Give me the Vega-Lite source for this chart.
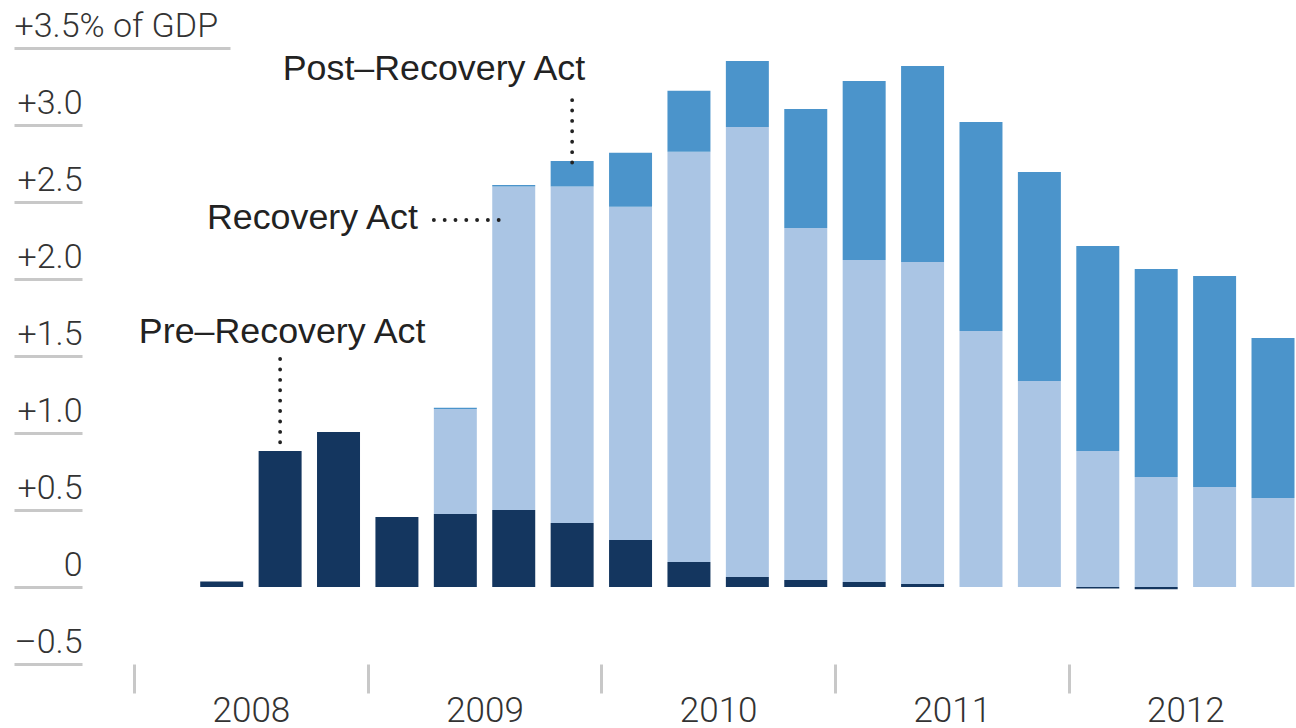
{
  "$schema": "https://vega.github.io/schema/vega-lite/v6.json",
  "width": 1269.5,
  "height": 616,
  "autosize": {"type": "none"},
  "padding": {"left": 25, "top": 48, "right": 1.5, "bottom": 64},
  "background": "#ffffff",
  "config": {"view": {"stroke": null}},
  "layer": [
    {
      "data": {"values": [
        {"q": "2008 Q2", "part": "pre", "k": 1, "v": 0.035},
        {"q": "2008 Q3", "part": "pre", "k": 1, "v": 0.883},
        {"q": "2008 Q4", "part": "pre", "k": 1, "v": 1.006},
        {"q": "2009 Q1", "part": "pre", "k": 1, "v": 0.455},
        {"q": "2009 Q2", "part": "pre", "k": 1, "v": 0.474},
        {"q": "2009 Q3", "part": "pre", "k": 1, "v": 0.5},
        {"q": "2009 Q4", "part": "pre", "k": 1, "v": 0.416},
        {"q": "2010 Q1", "part": "pre", "k": 1, "v": 0.305},
        {"q": "2010 Q2", "part": "pre", "k": 1, "v": 0.162},
        {"q": "2010 Q3", "part": "pre", "k": 1, "v": 0.065},
        {"q": "2010 Q4", "part": "pre", "k": 1, "v": 0.045},
        {"q": "2011 Q1", "part": "pre", "k": 1, "v": 0.032},
        {"q": "2011 Q2", "part": "pre", "k": 1, "v": 0.02},
        {"q": "2012 Q1", "part": "pre", "k": 1, "v": -0.01},
        {"q": "2012 Q2", "part": "pre", "k": 1, "v": -0.015},
        {"q": "2009 Q2", "part": "rec", "k": 2, "v": 0.682},
        {"q": "2009 Q3", "part": "rec", "k": 2, "v": 2.1},
        {"q": "2009 Q4", "part": "rec", "k": 2, "v": 2.184},
        {"q": "2010 Q1", "part": "rec", "k": 2, "v": 2.164},
        {"q": "2010 Q2", "part": "rec", "k": 2, "v": 2.665},
        {"q": "2010 Q3", "part": "rec", "k": 2, "v": 2.922},
        {"q": "2010 Q4", "part": "rec", "k": 2, "v": 2.286},
        {"q": "2011 Q1", "part": "rec", "k": 2, "v": 2.091},
        {"q": "2011 Q2", "part": "rec", "k": 2, "v": 2.09},
        {"q": "2011 Q3", "part": "rec", "k": 2, "v": 1.662},
        {"q": "2011 Q4", "part": "rec", "k": 2, "v": 1.338},
        {"q": "2012 Q1", "part": "rec", "k": 2, "v": 0.883},
        {"q": "2012 Q2", "part": "rec", "k": 2, "v": 0.714},
        {"q": "2012 Q3", "part": "rec", "k": 2, "v": 0.649},
        {"q": "2012 Q4", "part": "rec", "k": 2, "v": 0.578},
        {"q": "2009 Q2", "part": "post", "k": 3, "v": 0.008},
        {"q": "2009 Q3", "part": "post", "k": 3, "v": 0.01},
        {"q": "2009 Q4", "part": "post", "k": 3, "v": 0.166},
        {"q": "2010 Q1", "part": "post", "k": 3, "v": 0.351},
        {"q": "2010 Q2", "part": "post", "k": 3, "v": 0.396},
        {"q": "2010 Q3", "part": "post", "k": 3, "v": 0.429},
        {"q": "2010 Q4", "part": "post", "k": 3, "v": 0.773},
        {"q": "2011 Q1", "part": "post", "k": 3, "v": 1.163},
        {"q": "2011 Q2", "part": "post", "k": 3, "v": 1.273},
        {"q": "2011 Q3", "part": "post", "k": 3, "v": 1.357},
        {"q": "2011 Q4", "part": "post", "k": 3, "v": 1.357},
        {"q": "2012 Q1", "part": "post", "k": 3, "v": 1.331},
        {"q": "2012 Q2", "part": "post", "k": 3, "v": 1.351},
        {"q": "2012 Q3", "part": "post", "k": 3, "v": 1.37},
        {"q": "2012 Q4", "part": "post", "k": 3, "v": 1.039}
      ]},
      "mark": {"type": "bar"},
      "encoding": {
        "x": {
          "field": "q", "type": "ordinal", "sort": null,
          "scale": {
            "domain": ["2008 Q1","2008 Q2","2008 Q3","2008 Q4","2009 Q1","2009 Q2","2009 Q3","2009 Q4","2010 Q1","2010 Q2","2010 Q3","2010 Q4","2011 Q1","2011 Q2","2011 Q3","2011 Q4","2012 Q1","2012 Q2","2012 Q3","2012 Q4"],
            "paddingInner": 0.264, "paddingOuter": 1, "align": 1, "round": false
          },
          "axis": {
            "title": null,
            "values": ["2008 Q1","2009 Q1","2010 Q1","2011 Q1","2012 Q1"],
            "bandPosition": 0,
            "tickOffset": -7.7,
            "labelOffset": 95.3,
            "tickSize": 29,
            "tickWidth": 3,
            "tickColor": "#c8c8c8",
            "domain": false,
            "grid": false,
            "labelExpr": "slice(datum.value, 0, 4)",
            "labelAngle": 0,
            "labelAlign": "center",
            "labelBaseline": "alphabetic",
            "labelPadding": 28,
            "labelFont": "Roboto",
            "labelFontWeight": 300,
            "labelFontSize": 35,
            "labelColor": "#333333",
            "labelOverlap": false,
            "labelFlush": false,
            "labelBound": false,
            "labelLimit": 0
          }
        },
        "y": {
          "field": "v", "type": "quantitative", "stack": "zero",
          "scale": {"domain": [-0.5, 3.5], "nice": false, "zero": false},
          "axis": {
            "title": null,
            "orient": "right",
            "offset": -1280.5,
            "values": [-0.5, 0, 0.5, 1, 1.5, 2, 2.5, 3, 3.5],
            "labelExpr": "datum.value === 3.5 ? '+3.5% of GDP' : datum.value === 0 ? '0' : datum.value < 0 ? '–0.5' : '+' + format(datum.value, '.1f')",
            "domain": false,
            "grid": false,
            "tickColor": "#c8c8c8",
            "tickWidth": 3,
            "tickSize": {"condition": {"test": "datum.value === 3.5", "value": 216}, "value": 68},
            "labelPadding": {"condition": {"test": "datum.value === 3.5", "value": -216}, "value": 0},
            "labelAlign": {"condition": {"test": "datum.value === 3.5", "value": "left"}, "value": "right"},
            "labelBaseline": "alphabetic",
            "labelOffset": -12,
            "labelFont": "Roboto",
            "labelFontWeight": 300,
            "labelFontSize": 34,
            "labelColor": "#333333",
            "labelOverlap": false,
            "labelFlush": false,
            "labelBound": false,
            "labelLimit": 0
          }
        },
        "color": {
          "field": "part", "type": "nominal",
          "scale": {"domain": ["pre", "rec", "post"], "range": ["#14365f", "#aac5e4", "#4b94cb"]},
          "legend": null
        },
        "order": {"field": "k", "type": "quantitative"}
      }
    },
    {
      "mark": {"type": "rule", "color": "#c8c8c8", "strokeWidth": 3},
      "encoding": {"y": {"datum": 0}}
    },
    {
      "data": {"values": [
        {"q": "2009 Q4", "v": 3.162, "v2": 2.72},
        {"q": "2008 Q3", "v": 1.4805, "v2": 0.935}
      ]},
      "mark": {"type": "rule", "color": "#222222", "strokeWidth": 3.8, "strokeCap": "round", "strokeDash": [0.1, 10.3]},
      "encoding": {
        "x": {"field": "q", "type": "ordinal", "bandPosition": 0.5},
        "y": {"field": "v", "type": "quantitative"},
        "y2": {"field": "v2"}
      }
    },
    {
      "data": {"values": [
        {"q": "2009 Q2", "q2": "2009 Q3", "v": 2.383}
      ]},
      "mark": {"type": "rule", "color": "#222222", "strokeWidth": 3.8, "strokeCap": "round", "strokeDash": [0.1, 10.7], "x2Offset": -14},
      "encoding": {
        "x": {"field": "q", "type": "ordinal", "bandPosition": 0},
        "x2": {"field": "q2"},
        "y": {"field": "v", "type": "quantitative"}
      }
    },
    {
      "data": {"values": [{"q": "2009 Q4", "v": 3.29, "label": "Post–Recovery Act"}]},
      "mark": {"type": "text", "align": "right", "baseline": "alphabetic", "dx": 13, "font": "Liberation Sans", "fontSize": 35.8, "color": "#222222"},
      "encoding": {
        "x": {"field": "q", "type": "ordinal", "bandPosition": 0.5},
        "y": {"field": "v", "type": "quantitative"},
        "text": {"field": "label"}
      }
    },
    {
      "data": {"values": [{"q": "2009 Q2", "v": 2.325, "label": "Recovery Act"}]},
      "mark": {"type": "text", "align": "right", "baseline": "alphabetic", "dx": -16, "font": "Liberation Sans", "fontSize": 35.8, "color": "#222222"},
      "encoding": {
        "x": {"field": "q", "type": "ordinal", "bandPosition": 0},
        "y": {"field": "v", "type": "quantitative"},
        "text": {"field": "label"}
      }
    },
    {
      "data": {"values": [{"q": "2008 Q3", "v": 1.584, "label": "Pre–Recovery Act"}]},
      "mark": {"type": "text", "align": "center", "baseline": "alphabetic", "dx": 2, "font": "Liberation Sans", "fontSize": 35.8, "color": "#222222"},
      "encoding": {
        "x": {"field": "q", "type": "ordinal", "bandPosition": 0.5},
        "y": {"field": "v", "type": "quantitative"},
        "text": {"field": "label"}
      }
    }
  ]
}
